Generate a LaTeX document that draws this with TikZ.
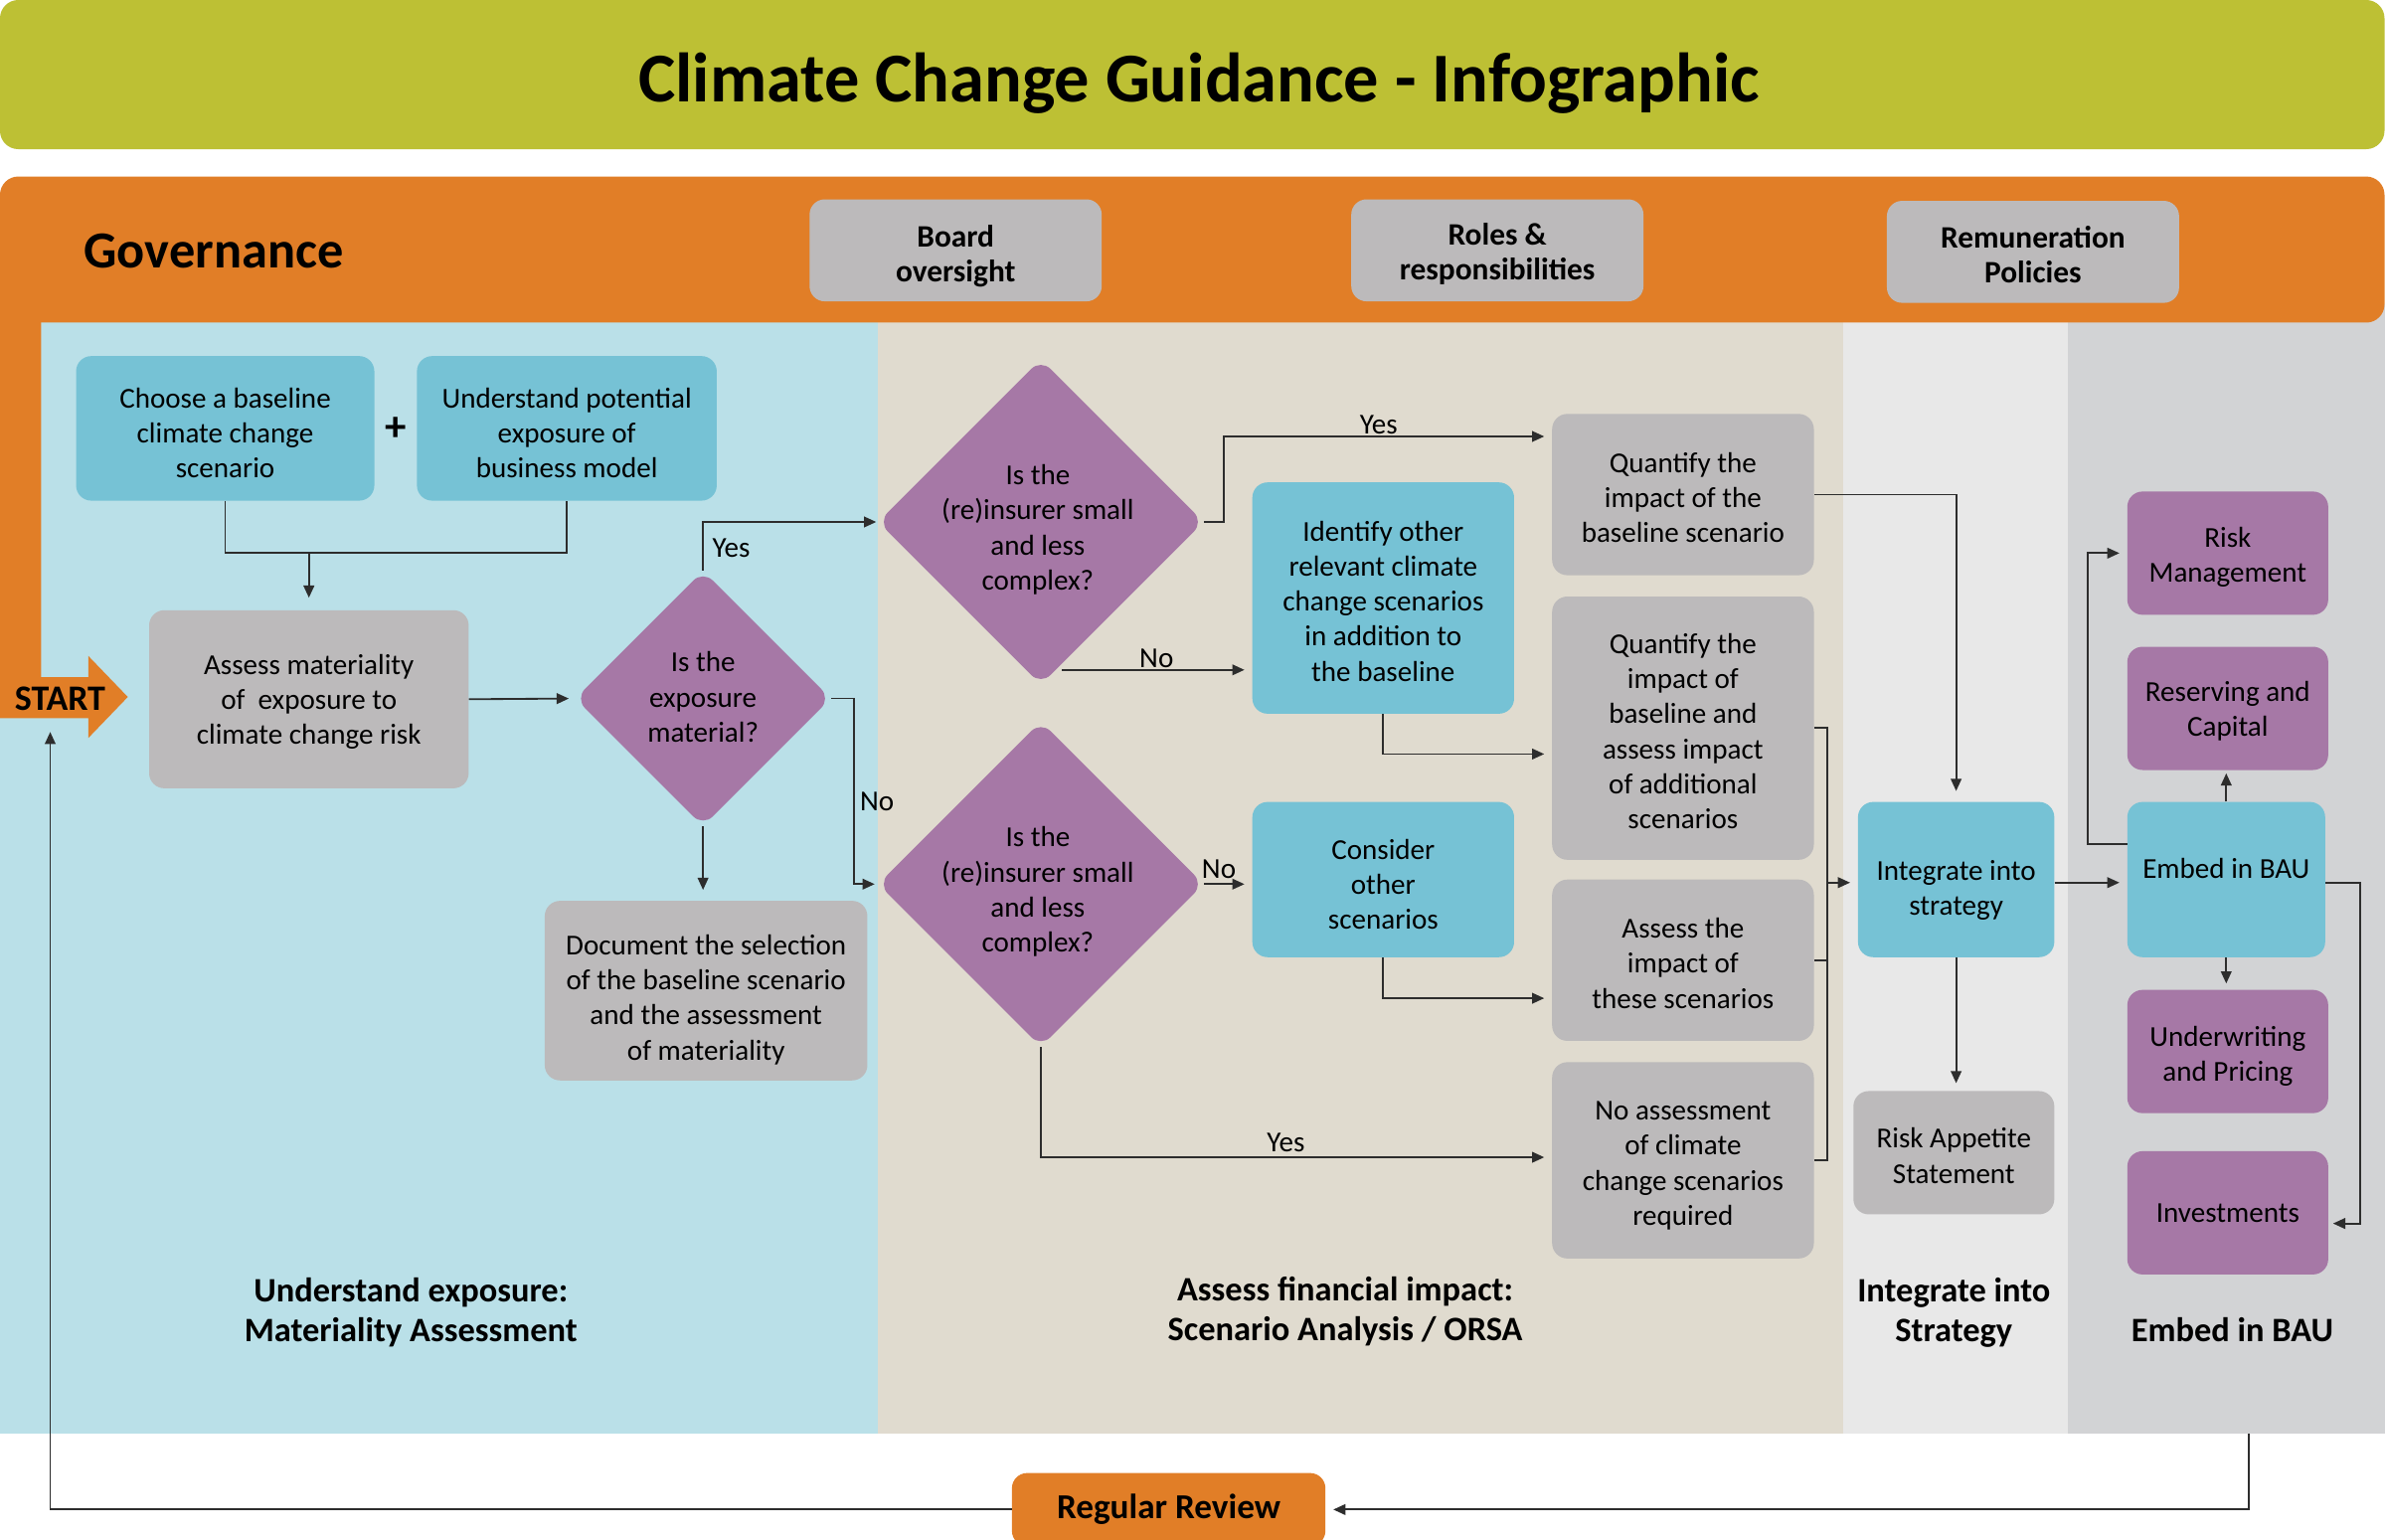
\documentclass[tikz,border=0pt]{standalone}
\usepackage{fontspec}
\setmainfont{Carlito}
\usetikzlibrary{shapes.geometric,arrows.meta,calc}

\definecolor{titlegreen}{RGB}{189,192,52}
\definecolor{govorange}{RGB}{225,126,39}
\definecolor{panelblue}{RGB}{186,224,232}
\definecolor{panelbeige}{RGB}{224,219,207}
\definecolor{panellight}{RGB}{232,232,232}
\definecolor{panelgrey}{RGB}{210,211,213}
\definecolor{boxcyan}{RGB}{118,194,213}
\definecolor{boxgrey}{RGB}{188,186,187}
\definecolor{boxpurple}{RGB}{166,120,166}
\definecolor{linegrey}{RGB}{45,45,45}

% box shape node + text node, text shifted down by #5
\newcommand\tbox[6]{%
  \node[#1] (#2) at (#3,#4) {};
  \node[btext] (#2t) at (#3,#4+#5) {#6};}
\newcommand\gbox[6]{%
  \node[#1] (#2) at (#3,#4) {};
  \node[gtext] (#2t) at (#3,#4+#5) {#6};}

\begin{document}
\begin{tikzpicture}[x=1pt,y=-1pt,
  sz/.style 2 args={minimum width=#1pt, minimum height=#2pt},
  base/.style={rounded corners=10pt, inner sep=0pt},
  cyanbox/.style={base, fill=boxcyan},
  greybox/.style={base, fill=boxgrey},
  purplebox/.style={base, fill=boxpurple},
  btext/.style={align=center, inner sep=0pt, text=black, font=\fontsize{19}{23}\selectfont},
  gtext/.style={align=center, inner sep=0pt, text=black, font=\bfseries\fontsize{20.5}{23}\selectfont},
  dia/.style={shape=diamond, fill=boxpurple, rounded corners=9pt, inner sep=0pt},
  lab/.style={inner sep=0pt, font=\fontsize{19}{23}\selectfont},
  foot/.style={align=center, inner sep=0pt, font=\bfseries\fontsize{22.5}{26}\selectfont},
  ln/.style={draw=linegrey, line width=1.2pt},
  arr/.style={ln, -{Triangle[length=8pt,width=7pt]}, shorten >=5pt},
]
\useasboundingbox (0,0) rectangle (1568,1012);
\clip (0,0) rectangle (1568,1012);
\fill[white] (0,0) rectangle (1568,1012);

% panels
\fill[panelblue]  (0,200)    rectangle (577,942);
\fill[panelbeige] (577,200)  rectangle (1211,942);
\fill[panellight] (1211,200) rectangle (1359,942);
\fill[panelgrey]  (1359,200) rectangle (1567,942);

% title
\fill[titlegreen, rounded corners=12pt] (0,0) rectangle (1567,98);
\node[font=\bfseries\fontsize{46}{50}\selectfont, inner sep=0pt] (title) at (788,54.5) {Climate Change Guidance - Infographic};

% governance band + start arrow
\fill[govorange, rounded corners=12pt] (0,116) rectangle (1567,212);
\fill[govorange] (0,200) -- (27,200) -- (27,445) -- (58,445) -- (58,431) -- (84,458)
   -- (58,485) -- (58,472) -- (0,472) -- cycle;
\node[font=\bfseries\fontsize{34.2}{38}\selectfont, anchor=west, inner sep=0pt] (gov) at (55,165) {Governance};
\node[font=\bfseries\fontsize{23.5}{25}\selectfont, inner sep=0pt] (start) at (39.5,459.5) {START};

\gbox{greybox, sz={192}{67}}{bo}{628}{164.5}{4}{Board\\oversight}
\gbox{greybox, sz={192}{67}}{rr}{984}{164.5}{2.5}{Roles \&\\responsibilities}
\gbox{greybox, sz={192}{67}}{rp}{1336}{165.5}{2}{Remuneration\\Policies}

% understand exposure column
\tbox{cyanbox, sz={196}{95}}{cb}{148}{281.5}{3}{Choose a baseline\\climate change\\scenario}
\node[font=\bfseries\fontsize{28}{28}\selectfont, inner sep=0pt] (plus) at (260,282) {+};
\tbox{cyanbox, sz={197}{95}}{up}{372.5}{281.5}{3}{Understand potential\\exposure of\\business model}
\tbox{greybox, sz={210}{117}}{am}{203}{459.5}{1.5}{Assess materiality\\of\ \ exposure to\\climate change risk}
\node[dia, sz={168}{168}] (d1) at (462,459) {};
\node[btext] (d1t) at (462,458) {Is the\\exposure\\material?};
\tbox{greybox, sz={212}{118}}{doc}{464}{651}{6}{Document the selection\\of the baseline scenario\\and the assessment\\of materiality}

% assess financial impact column
\node[dia, sz={214}{214}] (d2) at (684,343) {};
\node[btext] (d2t) at (682,348) {Is the\\(re)insurer small\\and less\\complex?};
\node[dia, sz={214}{214}] (d3) at (684,581) {};
\node[btext] (d3t) at (682,586) {Is the\\(re)insurer small\\and less\\complex?};
\tbox{cyanbox, sz={172}{152}}{ido}{909}{393}{2}{Identify other\\relevant climate\\change scenarios\\in addition to\\the baseline}
\tbox{cyanbox, sz={172}{102}}{cos}{909}{578}{3}{Consider\\other\\scenarios}
\tbox{greybox, sz={172}{106}}{qb}{1106}{325}{2}{Quantify the\\impact of the\\baseline scenario}
\tbox{greybox, sz={172}{173}}{qa}{1106}{478.5}{2}{Quantify the\\impact of\\baseline and\\assess impact\\of additional\\scenarios}
\tbox{greybox, sz={172}{106}}{ati}{1106}{631}{2}{Assess the\\impact of\\these scenarios}
\tbox{greybox, sz={172}{129}}{noa}{1106}{762.5}{3.5}{No assessment\\of climate\\change scenarios\\required}

% integrate column
\tbox{cyanbox, sz={129}{102}}{intg}{1285.5}{578}{7}{Integrate into\\strategy}
\tbox{greybox, sz={132}{81}}{ras}{1284}{757.5}{2}{Risk Appetite\\Statement}

% embed column
\tbox{cyanbox, sz={130}{102}}{emb}{1463}{578}{-7}{Embed in BAU}
\tbox{purplebox, sz={132}{81}}{rm}{1464}{363.5}{2.5}{Risk\\Management}
\tbox{purplebox, sz={132}{81}}{rc}{1464}{465.5}{2}{Reserving and\\Capital}
\tbox{purplebox, sz={132}{81}}{uw}{1464}{691}{3}{Underwriting\\and Pricing}
\tbox{purplebox, sz={132}{81}}{inv}{1464}{797}{0}{Investments}

% footers
\node[foot] (f1) at (270,862.5) {Understand exposure:\\Materiality Assessment};
\node[foot] (f2) at (884,862) {Assess financial impact:\\Scenario Analysis / ORSA};
\node[foot] (f3) at (1284,862.5) {Integrate into\\Strategy};
\node[foot] (f4) at (1467,874) {Embed in BAU};

% regular review
\node[rounded corners=10pt, inner sep=0pt, fill=govorange, sz={206}{48}, font=\bfseries\fontsize{23}{25}\selectfont] (rev) at (768,992) {Regular Review};

% ---------- connectors ----------
\coordinate (jn) at (203,363);
\draw[ln] (cb.south) |- (jn) -| (up.south);
\draw[arr, shorten >=8pt] (jn) -- (am.north);
\draw[arr, shorten >=4pt] (am.east) -- (d1.west);

\draw[arr, shorten >=1pt] (d1.north) |- (d2.west);
\node[lab, anchor=west] (yes1) at (468,360) {Yes};
\draw[arr, shorten >=2pt] (d1.east) -- ++(15,0) |- (d3.west);
\node[lab, anchor=west] (no1) at (565,527) {No};
\draw[arr, shorten >=7pt] (d1.south) -- (d1.south |- doc.north);

\draw[arr] (d2.east) -- ++(13,0) |- ($(qb.north west)+(0,15)$);
\node[lab] (yes2) at (906,279) {Yes};
\coordinate (d2no) at ($(d2.south)+(14,-10)$);
\draw[arr] (d2no) -- (d2no -| ido.west);
\node[lab] (no2) at (760,433) {No};
\draw[arr] (ido.south) |- ($(qa.west)+(0,17)$);

\draw[arr] (d3.east) -- (d3.east -| cos.west);
\node[lab] (no3) at (801,571) {No};
\draw[arr] (cos.south) |- ($(ati.west)+(0,25)$);
\draw[arr] (d3.south) |- ($(noa.west)+(0,-2)$);
\node[lab] (yes3) at (845,751) {Yes};

\coordinate (bx) at (1201,580);
\draw[ln] (qa.east) -| (bx);
\draw[ln] (noa.east) -| (bx);
\draw[ln] (ati.east) -- (ati.east -| bx);
\draw[arr] (bx) -- (bx -| intg.west);

\draw[arr, shorten >=7pt] (qb.east) -| (intg.north);
\draw[arr] (intg.south) -- (intg.south |- ras.north);
\draw[arr] ($(intg.east)+(0,2)$) -- ($(emb.west)+(0,2)$);

\draw[arr, shorten >=2pt] (emb.north) -- (emb.north |- rc.south);
\draw[arr, shorten >=4pt] (emb.south) -- (emb.south |- uw.north);
\draw[arr] ($(emb.north west)+(0,28)$) -- ++(-26,0) |- (rm.west);
\draw[arr, shorten >=3pt] ($(emb.east)+(0,2)$) -- ++(23,0) |- ($(inv.east)+(0,7)$);

\coordinate (revtop) at (1478,942);
\coordinate (startbot) at (33,472);
\draw[arr] (revtop) |- (rev.east);
\draw[arr, shorten >=9pt] (rev.west) -| (startbot);
\end{tikzpicture}
\end{document}
